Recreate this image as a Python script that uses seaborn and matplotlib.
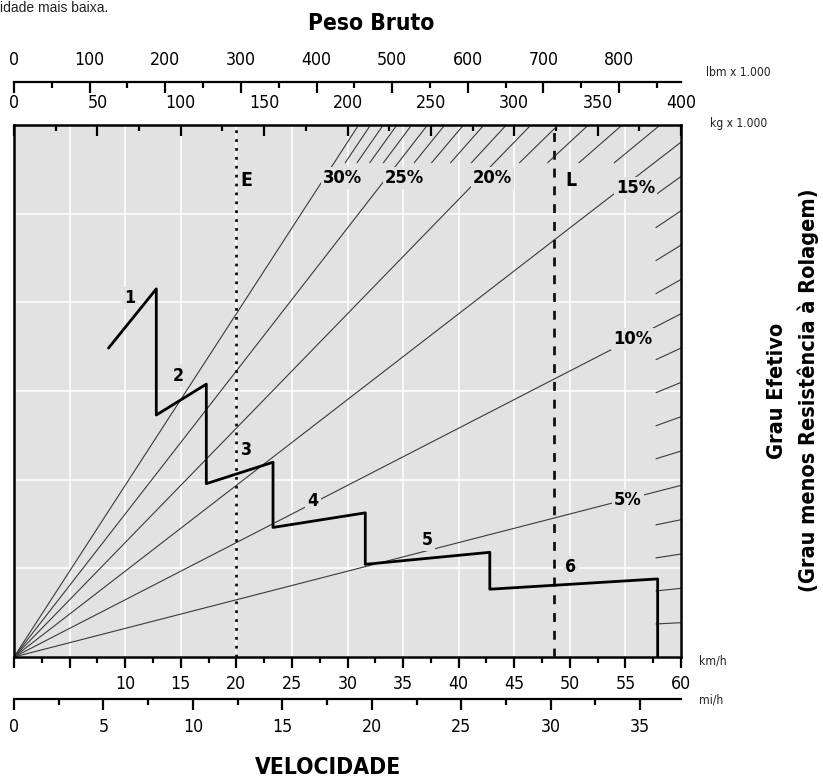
import numpy as np
import pandas as pd
import matplotlib
matplotlib.use("Agg")
import matplotlib.pyplot as plt
from matplotlib import font_manager as fm
from matplotlib.ticker import FixedLocator, MultipleLocator
import seaborn as sns

# ---------------- data ----------------
speed_kmh = [8.5, 12.8, 12.8, 17.3, 17.3, 23.3, 23.3, 31.6, 31.6, 42.8, 42.8, 57.9, 57.9]
effort = [36.0, 42.9, 28.2, 31.8, 20.2, 22.7, 15.1, 16.8, 10.8, 12.2, 7.9, 9.1, 0.0]

gear_labels = ["1", "2", "3", "4", "5", "6"]
gear_label_kmh = [10.4, 14.8, 20.9, 26.9, 37.2, 50.1]
gear_label_eff = [41.8, 32.8, 24.1, 18.2, 13.6, 10.5]

grade_main = [5, 10, 15, 20, 25, 30]
grade_text = ["5%", "10%", "15%", "20%", "25%", "30%"]
grade_label_kg = [368.0, 370.9, 372.7, 286.9, 234.2, 197.3]
grade_label_eff = [18.3, 37.1, 54.7, 55.8, 55.8, 55.8]
grade_minor_right = [1, 2, 3, 4, 6, 7, 8, 9, 11, 12, 13, 14]
grade_minor_top = [16, 17, 18, 19, 21, 22, 23, 24, 26, 27, 28, 29]

kmh_ticks = [0, 5, 10, 15, 20, 25, 30, 35, 40, 45, 50, 55, 60]
kmh_ticklabels = ["", "", "10", "15", "20", "25", "30", "35", "40", "45", "50", "55", "60"]
mph_ticks = [0, 5, 10, 15, 20, 25, 30, 35]
kg_ticks = [0, 50, 100, 150, 200, 250, 300, 350, 400]
lbm_ticks = [0, 100, 200, 300, 400, 500, 600, 700, 800]

marker_names = ["E", "L"]
marker_kmh = [20.0, 48.6]
marker_label_kmh = [20.35, 49.6]
marker_styles = [(0, (1, 2.2)), (0, (3.2, 3.2))]

KMH_MAX = 60.0
KG_MAX = 400.0
EFF_MAX = 62.0
MPH_MAX = KMH_MAX / 1.609344
LBM_MAX = KG_MAX * 2.20462

BG = "#e2e2e2"

# ---------------- style ----------------
sns.set_theme(style="darkgrid", rc={"axes.facecolor": BG, "grid.color": "white",
                                    "grid.linewidth": 1.1})

# choose a narrow / condensed face if one is installed
_fonts = fm.fontManager.ttflist
_names = {f.name for f in _fonts}
if "Liberation Sans Narrow" in _names:
    FAMILY, STRETCH, SZ = "Liberation Sans Narrow", "normal", 1.0
elif any(f.name == "DejaVu Sans" and "condensed" in f.fname.lower() for f in _fonts):
    FAMILY, STRETCH, SZ = "DejaVu Sans", "condensed", 0.82
elif "Roboto Condensed" in _names:
    FAMILY, STRETCH, SZ = "Roboto Condensed", "normal", 1.0
else:
    FAMILY, STRETCH, SZ = "Roboto", "normal", 0.84

plt.rcParams["font.family"] = [FAMILY, "DejaVu Sans"]
plt.rcParams["font.stretch"] = STRETCH
plt.rcParams["text.color"] = "black"
plt.rcParams["xtick.color"] = "black"
plt.rcParams["xtick.labelcolor"] = "black"

W, H = 823, 782
fig = plt.figure(figsize=(W / 100, H / 100), dpi=100)
fig.patch.set_facecolor("white")

L = 14 / W
R = 681 / W
B = 1 - 657 / H
T = 1 - 125 / H
rect = [L, B, R - L, T - B]

TL_SIZE = 15.5 * SZ

# background axes: km/h scale, grid, bottom ticks
ax_bg = fig.add_axes(rect, zorder=0)
ax_bg.set_xlim(0, KMH_MAX)
ax_bg.set_ylim(0, EFF_MAX)
ax_bg.set_facecolor(BG)
ax_bg.xaxis.set_major_locator(FixedLocator(kmh_ticks))
ax_bg.set_xticklabels(kmh_ticklabels)
ax_bg.xaxis.set_minor_locator(MultipleLocator(2.5))
ax_bg.yaxis.set_major_locator(FixedLocator(np.linspace(0, EFF_MAX, 7)))
ax_bg.set_yticklabels([])
ax_bg.tick_params(axis="y", length=0)
ax_bg.tick_params(axis="x", which="major", bottom=True, direction="out", length=8,
                  width=1.6, labelsize=TL_SIZE, pad=5, color="black")
ax_bg.tick_params(axis="x", which="minor", bottom=True, direction="out", length=4,
                  width=1.6, color="black")
ax_bg.grid(True, which="major", color="white", linewidth=1.1)
ax_bg.grid(False, which="minor")
for s in ax_bg.spines.values():
    s.set_visible(False)

# weight axes: kg scale (top), grade lines
ax_w = fig.add_axes(rect, zorder=1)
ax_w.set_xlim(0, KG_MAX)
ax_w.set_ylim(0, EFF_MAX)
ax_w.patch.set_visible(False)
ax_w.grid(False)
for s in ax_w.spines.values():
    s.set_visible(False)
ax_w.xaxis.tick_top()
ax_w.xaxis.set_label_position("top")
ax_w.xaxis.set_major_locator(FixedLocator(kg_ticks))
ax_w.set_xticklabels([str(v) for v in kg_ticks])
ax_w.xaxis.set_minor_locator(MultipleLocator(25))
ax_w.tick_params(axis="x", which="major", top=True, bottom=False, direction="in",
                 length=8, width=1.6, labelsize=TL_SIZE, pad=9, color="black")
ax_w.tick_params(axis="x", which="minor", top=True, bottom=False, direction="in",
                 length=4, width=1.6, color="black")
ax_w.set_yticks([])

grade_df = pd.DataFrame({
    "peso": [w for g in grade_main for w in (0.0, KG_MAX)],
    "esforco": [w * g / 100 for g in grade_main for w in (0.0, KG_MAX)],
    "grau": [g for g in grade_main for _ in range(2)],
})
sns.lineplot(data=grade_df, x="peso", y="esforco", units="grau", estimator=None,
             color="#3a3a3a", linewidth=0.8, ax=ax_w, legend=False, sort=False)
for g in grade_minor_right:
    ws = [KG_MAX - 15, KG_MAX]
    ax_w.plot(ws, [w * g / 100 for w in ws], color="#3a3a3a", lw=0.8)
for g in grade_minor_top:
    es = [EFF_MAX - 4.4, EFF_MAX]
    ax_w.plot([e * 100 / g for e in es], es, color="#3a3a3a", lw=0.8)
for txt, xk, ye in zip(grade_text, grade_label_kg, grade_label_eff):
    ax_w.text(xk, ye, txt, ha="center", va="center", fontsize=16 * SZ, fontweight="bold",
              bbox=dict(facecolor=BG, edgecolor="none", pad=1.5), zorder=4)
ax_w.set_xlabel("")
ax_w.set_ylabel("")

# curve axes (km/h scale): rimpull curve, gear labels, E / L markers, frame
ax_c = fig.add_axes(rect, zorder=2)
ax_c.set_xlim(0, KMH_MAX)
ax_c.set_ylim(0, EFF_MAX)
ax_c.patch.set_visible(False)
ax_c.grid(False)
ax_c.set_xticks([])
ax_c.set_yticks([])
for s in ax_c.spines.values():
    s.set_visible(True)
    s.set_color("black")
    s.set_linewidth(1.8)

for name, xk, xl, ls in zip(marker_names, marker_kmh, marker_label_kmh, marker_styles):
    ax_c.axvline(xk, color="#111111", lw=2.0, linestyle=ls, zorder=3)
    ax_c.text(xl, 55.5, name, ha="left", va="center", fontsize=17 * SZ, fontweight="bold")

curve_df = pd.DataFrame({"velocidade": speed_kmh, "esforco": effort})
sns.lineplot(data=curve_df, x="velocidade", y="esforco", sort=False, estimator=None,
             color="black", linewidth=2.0, ax=ax_c, zorder=5)
for txt, xk, ye in zip(gear_labels, gear_label_kmh, gear_label_eff):
    ax_c.text(xk, ye, txt, ha="center", va="center", fontsize=15.5 * SZ, fontweight="bold",
              bbox=dict(facecolor=BG, edgecolor="none", pad=1.5), zorder=4)
ax_c.set_xlabel("")
ax_c.set_ylabel("")
ax_c.set_xlim(0, KMH_MAX)
ax_c.set_ylim(0, EFF_MAX)

# lbm axis (line above plot)
ax_lb = fig.add_axes([L, 1 - 82 / H, R - L, 1e-6], zorder=1)
ax_lb.set_xlim(0, LBM_MAX)
ax_lb.patch.set_visible(False)
ax_lb.grid(False)
for k, s in ax_lb.spines.items():
    s.set_visible(k == "top")
ax_lb.spines["top"].set_color("black")
ax_lb.spines["top"].set_linewidth(1.6)
ax_lb.set_yticks([])
ax_lb.xaxis.tick_top()
ax_lb.xaxis.set_major_locator(FixedLocator(lbm_ticks))
ax_lb.set_xticklabels([str(v) for v in lbm_ticks])
ax_lb.xaxis.set_minor_locator(MultipleLocator(50))
ax_lb.tick_params(axis="x", which="major", top=True, bottom=False, direction="in",
                  length=8, width=1.6, labelsize=TL_SIZE, pad=9, color="black")
ax_lb.tick_params(axis="x", which="minor", top=True, bottom=False, direction="in",
                  length=4, width=1.6, color="black")

# mi/h axis (line below plot)
ax_mph = fig.add_axes([L, 1 - 699 / H, R - L, 1e-6], zorder=1)
ax_mph.set_xlim(0, MPH_MAX)
ax_mph.patch.set_visible(False)
ax_mph.grid(False)
for k, s in ax_mph.spines.items():
    s.set_visible(k == "bottom")
ax_mph.spines["bottom"].set_color("black")
ax_mph.spines["bottom"].set_linewidth(1.6)
ax_mph.set_yticks([])
ax_mph.xaxis.set_major_locator(FixedLocator(mph_ticks))
ax_mph.set_xticklabels([str(v) for v in mph_ticks])
ax_mph.xaxis.set_minor_locator(MultipleLocator(2.5))
ax_mph.tick_params(axis="x", which="major", bottom=True, direction="out", length=8,
                   width=1.6, labelsize=TL_SIZE, pad=6, color="black")
ax_mph.tick_params(axis="x", which="minor", bottom=True, direction="out", length=4,
                   width=1.6, color="black")

# texts
def fx(px):
    return px / W

def fy(py):
    return 1 - py / H

fig.text(fx(0), fy(1), "idade mais baixa.", ha="left", va="top", fontsize=10,
         family=["Liberation Sans", "DejaVu Sans"], color="#222222")
fig.text(fx(371), fy(23), "Peso Bruto", ha="center", va="center", fontsize=20 * SZ,
         fontweight="bold")
fig.text(fx(328), fy(767), "VELOCIDADE", ha="center", va="center", fontsize=20 * SZ,
         fontweight="bold")
SMALL = 10.5 * SZ
fig.text(fx(706), fy(72), "lbm x 1.000", ha="left", va="center", fontsize=SMALL, color="#222222")
fig.text(fx(710), fy(124), "kg x 1.000", ha="left", va="center", fontsize=SMALL, color="#222222")
fig.text(fx(699), fy(661), "km/h", ha="left", va="center", fontsize=SMALL, color="#222222")
fig.text(fx(699), fy(700), "mi/h", ha="left", va="center", fontsize=SMALL, color="#222222")
fig.text(fx(777), fy(391), "Grau Efetivo", ha="center", va="center", rotation=90,
         fontsize=19 * SZ, fontweight="bold")
fig.text(fx(808), fy(390), "(Grau menos Resistência à Rolagem)", ha="center", va="center",
         rotation=90, fontsize=19 * SZ, fontweight="bold")

fig.savefig("out.png", dpi=100, facecolor="white")
